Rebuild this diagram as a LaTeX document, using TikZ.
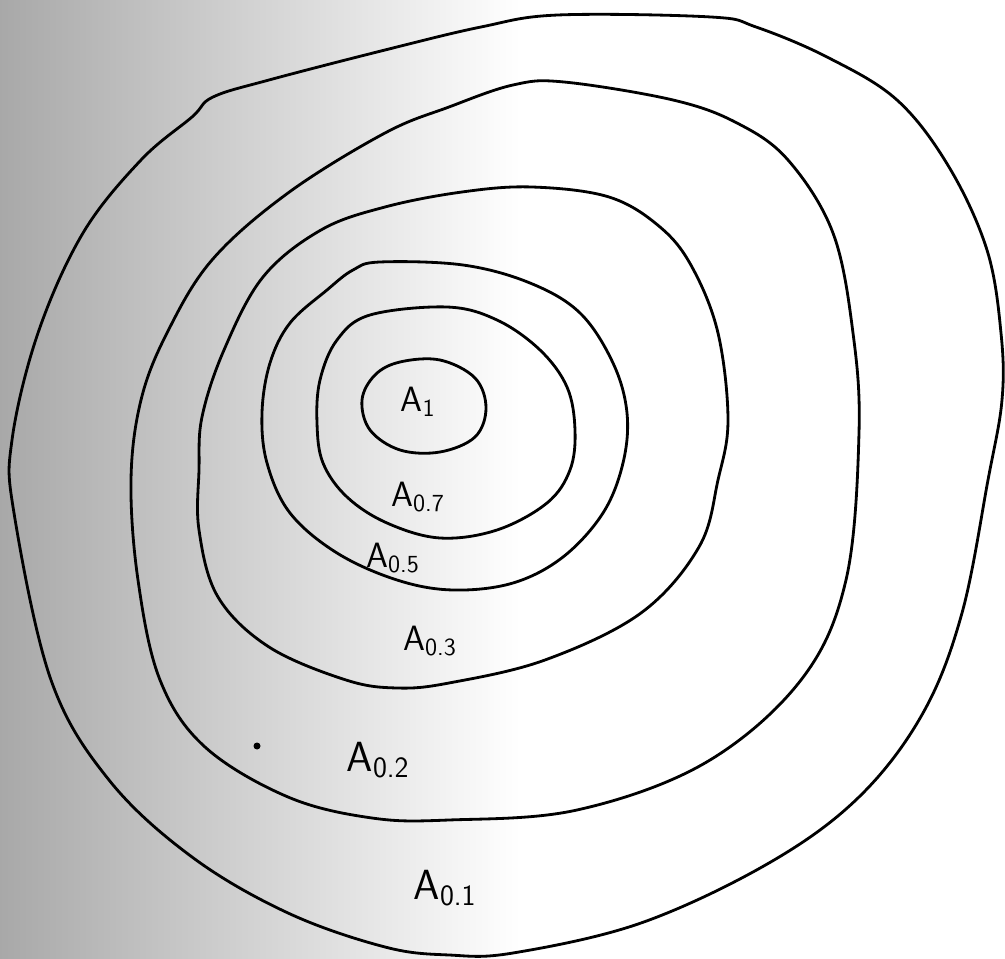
\documentclass[tikz,border=0pt]{standalone}
\usepackage{tikz}
\usetikzlibrary{shadings}

\begin{document}
\begin{tikzpicture}[x=0.02cm, y=-0.02cm,
  contour/.style={draw=black, line width=1.6pt, line join=round},
  lbl/.style={font=\fontsize{20}{24}\selectfont\sffamily, inner sep=1pt},
  biglbl/.style={font=\fontsize{24}{28}\selectfont\sffamily, inner sep=1pt}]

\useasboundingbox (0,0) rectangle (1005,959);
% scanned grey wash on the left
\shade[left color=black!34, middle color=black!13, right color=white] (0,0) rectangle (520,959);

% outer boundary A0.1
\draw[contour] plot[smooth cycle, tension=0.6] coordinates {
  (213,97) (269,80) (385,50) (481,27) (558,15) (711,17) (756,27) (827,57)
  (897,100) (949,167) (987,250) (1001,333) (1002,400) (988,480) (962,613)
  (923,713) (859,797) (769,863) (641,923) (513,953) (449,955) (385,947)
  (288,913) (192,857) (109,780) (51,680) (14,513) (12,440) (38,333)
  (83,233) (141,160) (192,117)};
% A0.2
\draw[contour] plot[smooth cycle, tension=0.6] coordinates {
  (564,82) (673,100) (737,123) (788,160) (833,233) (853,333) (859,433)
  (846,580) (801,680) (705,763) (577,810) (449,820) (372,818) (288,797)
  (205,747) (160,680) (138,580) (131,480) (141,400) (167,333) (212,260)
  (288,193) (385,133) (449,107) (513,85)};
% A0.3
\draw[contour] plot[smooth cycle, tension=0.6] coordinates {
  (532,187) (609,197) (660,227) (692,267) (718,333) (728,420) (718,480)
  (699,547) (641,613) (545,660) (449,683) (397,688) (346,680) (269,647)
  (218,597) (199,530) (199,470) (202,417) (224,350) (263,277) (321,230)
  (385,207) (462,192)};
% A0.5
\draw[contour] plot[smooth cycle, tension=0.6] coordinates {
  (380,262) (463,265) (530,283) (580,313) (613,363) (627,413) (623,463)
  (603,513) (563,557) (513,583) (453,590) (397,580) (337,553) (290,513)
  (267,463) (262,413) (270,363) (290,323) (327,290) (353,270)};
% A0.7
\draw[contour] plot[smooth cycle, tension=0.6] coordinates {
  (370,315) (447,307) (497,320) (540,350) (567,387) (575,430) (570,470)
  (547,503) (497,530) (440,538) (387,523) (347,497) (323,463) (317,423)
  (320,380) (337,340)};
% A1
\draw[contour] plot[smooth cycle, tension=0.6] coordinates {
  (400,362) (440,360) (475,378) (486,408) (475,437) (440,452) (400,450)
  (370,430) (362,400) (375,375)};

\node[lbl] (a1) at (418,402) {A\textsubscript{1}};
\node[lbl] (a07) at (418,497) {A\textsubscript{0.7}};
\node[lbl] (a05) at (393,558) {A\textsubscript{0.5}};
\node[lbl] (a03) at (430,641) {A\textsubscript{0.3}};
\node[biglbl] (a02) at (378,760) {A\textsubscript{0.2}};
\node[biglbl] (a01) at (445,888) {A\textsubscript{0.1}};

\fill (257,746) circle (3.5);
\end{tikzpicture}
\end{document}
